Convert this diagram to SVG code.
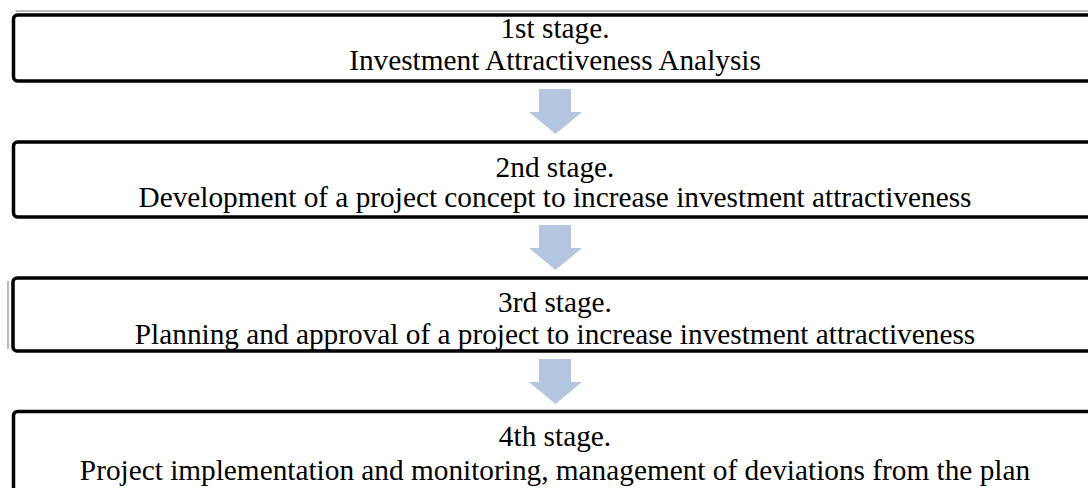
<svg xmlns="http://www.w3.org/2000/svg" width="1088" height="488" viewBox="0 0 1088 488">
<style>
.box{fill:#fff;stroke:#000;stroke-width:3.5}
.t{font-family:"Liberation Serif","Times New Roman",serif;font-size:29.3px;fill:#000;text-anchor:middle}
.arr{fill:#B4C5E0}
.thin{stroke:#777;stroke-width:1;fill:none}
</style>
<rect width="1088" height="488" fill="#fff"/>
<g id="node1">
<line class="thin" x1="16" y1="11" x2="1088" y2="11"/>
<rect class="box" x="13.5" y="15" width="1090" height="66" rx="4"/>
<text class="t" x="555" y="38">1st stage.</text>
<text class="t" x="555" y="70">Investment Attractiveness Analysis</text>
</g>
<g id="node2">
<rect class="box" x="13.5" y="142" width="1090" height="75" rx="4"/>
<text class="t" x="555" y="177">2nd stage.</text>
<text class="t" x="555" y="207">Development of a project concept to increase investment attractiveness</text>
</g>
<g id="node3">
<line class="thin" x1="8" y1="281" x2="8" y2="349"/>
<rect class="box" x="13" y="278" width="1090" height="73" rx="4"/>
<text class="t" x="555" y="312">3rd stage.</text>
<text class="t" x="555" y="344">Planning and approval of a project to increase investment attractiveness</text>
</g>
<g id="node4">
<rect class="box" x="13.5" y="411.5" width="1090" height="100" rx="4"/>
<text class="t" x="555" y="446">4th stage.</text>
<text class="t" x="555" y="480">Project implementation and monitoring, management of deviations from the plan</text>
</g>
<g id="connectors">
<polygon class="arr" points="539,89 571,89 571,112 582,112 555.5,134 529,112 539,112"/>
<polygon class="arr" points="539,225 571,225 571,248 582,248 555.5,270 529,248 539,248"/>
<polygon class="arr" points="539,359 571,359 571,382 582,382 555.5,404 529,382 539,382"/>
</g>
</svg>
